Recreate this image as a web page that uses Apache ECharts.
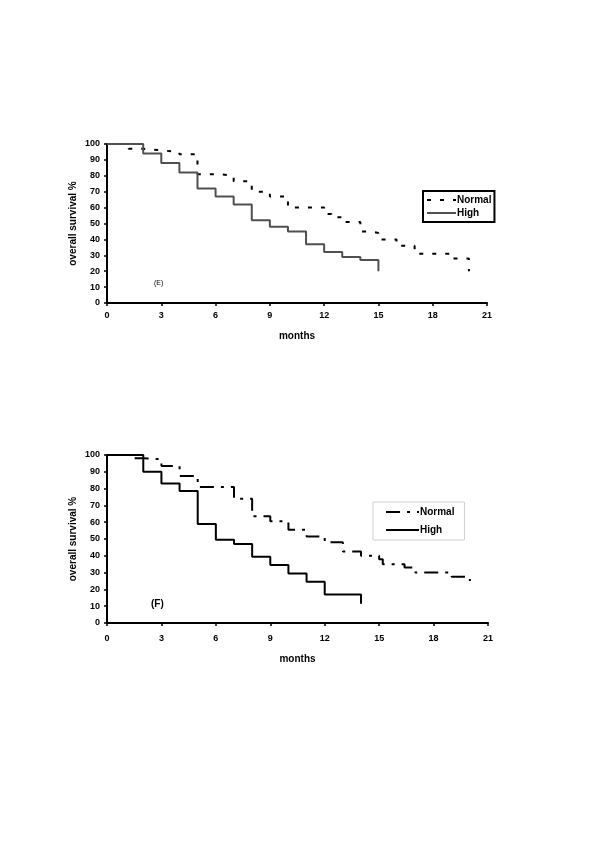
<!DOCTYPE html>
<html><head><meta charset="utf-8">
<script src="https://cdn.jsdelivr.net/npm/echarts@6/dist/echarts.min.js"></script>
<style>html,body{margin:0;padding:0;background:#fff}#c{width:600px;height:849px}</style>
</head><body><div id="c"></div>
<script>
// Panel (E)
const eNormalT = [0,1.2,2,3,4,5,6.3,7,8,9,10,12,12.4,13,14,14.6,15,16,17,19,20];
const eNormalS = [100,97,96,95,93.5,81,80,76.5,70,67,60,56,54,51,45,44,40,36,31,28,20];
const eHighT = [0,2,3,4,5,6,7,8,9,10,11,12,13,14,15];
const eHighS = [100,94,88,82,72,67,62,52,48,45,37,32,29,27,20];
// Panel (F)
const fNormalT = [0,1.3,2,3,4,5,7,8,9,10,11,12,13,14,15,15.2,16.4,17,19,20];
const fNormalS = [100,98,97.5,93.5,87.5,81,74,63.5,60.5,55.5,51.5,48,42.5,40,38,35,33,30,27.5,25];
const fHighT = [0,2,3,4,5,6,7,8,9,10,11,12,14];
const fHighS = [100,90,83,78.5,59,49.5,47,39.5,34.5,29.5,24.5,17,11.5];
const xTicks = [0,3,6,9,12,15,18,21];
const yTicks = [0,10,20,30,40,50,60,70,80,90,100];

const pts = (t,s) => t.map((v,i)=>[v,s[i]]);
const FONT = 'Liberation Sans, Arial, sans-serif';
const lbl = {color:'#000', fontSize:9, fontWeight:'bold', fontFamily:FONT};
const nm = {color:'#000', fontSize:10, fontWeight:'bold', fontFamily:FONT};

function xAx(gi, gap, m){
  return {gridIndex:gi, type:'value', min:xTicks[0], max:xTicks[xTicks.length-1], interval:3,
    axisLine:{lineStyle:{color:'#000', width:2}}, axisTick:{length:3, lineStyle:{color:'#000', width:1.5}},
    axisLabel:Object.assign({margin:m}, lbl), splitLine:{show:false},
    name:'months', nameLocation:'middle', nameGap:gap, nameTextStyle:nm};
}
function yAx(gi){
  return {gridIndex:gi, type:'value', min:yTicks[0], max:yTicks[yTicks.length-1], interval:10,
    axisLine:{show:true, lineStyle:{color:'#000', width:2}}, axisTick:{show:true, length:3, lineStyle:{color:'#000', width:1.5}},
    axisLabel:Object.assign({margin:7}, lbl), splitLine:{show:false},
    name:'overall survival %', nameLocation:'middle', nameRotate:90, nameGap:29, nameMoveOverlap:false, nameTextStyle:nm};
}
function ser(name, gi, data, color, dash){
  return {name, type:'line', xAxisIndex:gi, yAxisIndex:gi, step:'end', data, symbol:'none', silent:true,
    animation:false, lineStyle:{color, width:2, type:dash||'solid'}, itemStyle:{color}};
}

const chart = echarts.init(document.getElementById('c'), null, {renderer:'canvas'});
chart.setOption({
  animation:false,
  grid:[{left:107, top:144, width:380, height:159}, {left:107, top:455, width:381, height:168}],
  xAxis:[xAx(0,28,8), xAx(1,31,11)],
  yAxis:[yAx(0), yAx(1)],
  legend:[
    {data:['Normal E','High E'], orient:'vertical', left:423, top:191, padding:[4,3,4,3], itemGap:3,
     itemWidth:29, itemHeight:10, borderColor:'#000', borderWidth:2, selectedMode:false,
     itemStyle:{opacity:0},
     formatter:n=>n.split(' ')[0], textStyle:Object.assign({padding:[0,0,0,-4]}, nm)},
    {data:['Normal F','High F'], orient:'vertical', left:373, top:502, padding:[5,10,5,12], itemGap:8,
     itemWidth:33, itemHeight:12, borderColor:'#d0d0d0', borderWidth:1, selectedMode:false,
     itemStyle:{opacity:0},
     formatter:n=>n.split(' ')[0], textStyle:Object.assign({padding:[0,0,0,-4]}, nm)}
  ],
  series:[
    ser('Normal E',0,pts(eNormalT,eNormalS),'#000',[4,9]),
    ser('High E',0,pts(eHighT,eHighS),'#505050'),
    ser('Normal F',1,pts(fNormalT,fNormalS),'#000',[14,7,3,7]),
    ser('High F',1,pts(fHighT,fHighS),'#000')
  ],
  graphic:[
    {type:'text', left:154, top:280, style:{text:'(E)', fontSize:7, fontFamily:FONT, fill:'#000'}},
    {type:'text', left:151, top:599, style:{text:'(F)', fontSize:10, fontWeight:'bold', fontFamily:FONT, fill:'#000'}}
  ]
});
</script></body></html>
